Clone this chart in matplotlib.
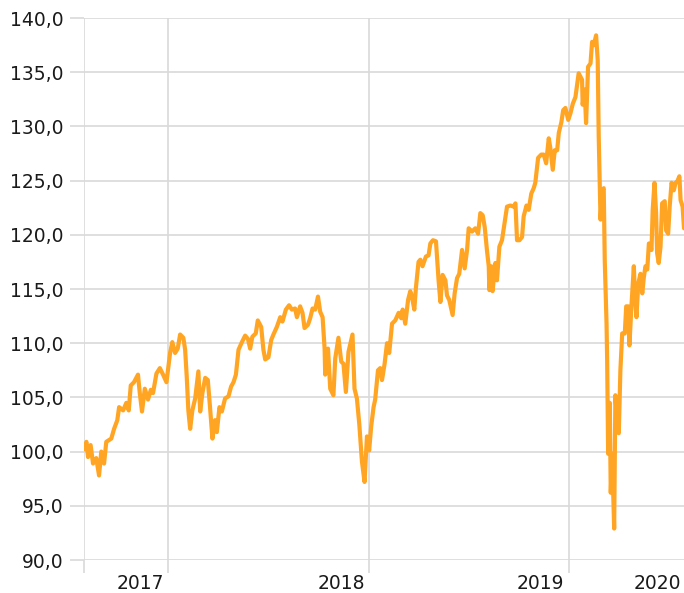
import matplotlib
matplotlib.use("Agg")
import matplotlib.pyplot as plt
from matplotlib.ticker import FuncFormatter, FixedLocator

# Time in decimal years, index values
t = [2017.581, 2017.593, 2017.601, 2017.614, 2017.626, 2017.642, 2017.656, 2017.667, 2017.681, 2017.692,
     2017.717, 2017.731, 2017.747, 2017.756, 2017.776, 2017.792, 2017.804, 2017.814, 2017.830, 2017.850,
     2017.859, 2017.870, 2017.884, 2017.900, 2017.914, 2017.925, 2017.942, 2017.959, 2017.975, 2017.992,
     2018.010, 2018.021, 2018.035, 2018.048, 2018.060, 2018.076, 2018.085, 2018.093, 2018.101, 2018.110,
     2018.121, 2018.135, 2018.151, 2018.160, 2018.171, 2018.185, 2018.198, 2018.209, 2018.221, 2018.234,
     2018.243, 2018.256, 2018.268, 2018.284, 2018.301, 2018.314, 2018.326, 2018.338, 2018.351, 2018.368,
     2018.384, 2018.398, 2018.409, 2018.420, 2018.437, 2018.447, 2018.464, 2018.475, 2018.484, 2018.500,
     2018.514, 2018.525, 2018.542, 2018.559, 2018.570, 2018.587, 2018.603, 2018.617, 2018.633, 2018.642,
     2018.658, 2018.670, 2018.680, 2018.697, 2018.708, 2018.720, 2018.733, 2018.747, 2018.758, 2018.770,
     2018.780, 2018.783, 2018.797, 2018.808, 2018.824, 2018.833, 2018.849, 2018.863, 2018.874, 2018.886,
     2018.899, 2018.919, 2018.929, 2018.941, 2018.953, 2018.966, 2018.979, 2018.991,
     2019.002, 2019.012, 2019.024, 2019.032, 2019.046, 2019.057, 2019.066, 2019.079, 2019.091, 2019.102,
     2019.116, 2019.132, 2019.149, 2019.162, 2019.169, 2019.182, 2019.196, 2019.207, 2019.215, 2019.227,
     2019.235, 2019.248, 2019.257, 2019.268, 2019.285, 2019.298, 2019.307, 2019.320, 2019.335, 2019.348,
     2019.357, 2019.368, 2019.382, 2019.390, 2019.401, 2019.418, 2019.428, 2019.440, 2019.451, 2019.465,
     2019.478, 2019.490, 2019.498, 2019.515, 2019.531, 2019.545, 2019.556, 2019.568, 2019.578, 2019.590,
     2019.598, 2019.601, 2019.611, 2019.617, 2019.631, 2019.639, 2019.651, 2019.664, 2019.677, 2019.689,
     2019.706, 2019.722, 2019.731, 2019.739, 2019.751, 2019.764, 2019.772, 2019.786, 2019.797, 2019.810,
     2019.822, 2019.830, 2019.844, 2019.860, 2019.872, 2019.884, 2019.897, 2019.905, 2019.917, 2019.927,
     2019.939, 2019.947, 2019.960, 2019.969, 2019.980, 2019.994,
     2020.005, 2020.017, 2020.030, 2020.046, 2020.063, 2020.066, 2020.076, 2020.083, 2020.093, 2020.105,
     2020.113, 2020.121, 2020.133, 2020.141, 2020.146, 2020.155, 2020.163, 2020.171, 2020.176, 2020.185,
     2020.188, 2020.193, 2020.201, 2020.206, 2020.213, 2020.223, 2020.229, 2020.238, 2020.246, 2020.254,
     2020.263, 2020.276, 2020.283, 2020.293, 2020.299, 2020.309, 2020.321, 2020.326, 2020.334, 2020.343,
     2020.354, 2020.363, 2020.371, 2020.379, 2020.388, 2020.396, 2020.409, 2020.415, 2020.424, 2020.432,
     2020.437, 2020.445, 2020.454, 2020.462, 2020.475, 2020.482, 2020.492, 2020.500, 2020.509, 2020.520,
     2020.529, 2020.537, 2020.548, 2020.554, 2020.564, 2020.571]

values = [100.2, 100.9, 99.5, 100.6, 98.9, 99.4, 97.8, 100.0, 98.9, 100.9,
          101.2, 102.1, 102.9, 104.1, 103.8, 104.5, 103.8, 106.1, 106.4, 107.1,
          105.4, 103.7, 105.8, 104.8, 105.7, 105.4, 107.2, 107.7, 107.1, 106.4,
          109.1, 110.1, 109.1, 109.5, 110.8, 110.5, 109.4, 106.9, 103.8, 102.1,
          103.8, 104.9, 107.4, 103.7, 105.4, 106.8, 106.6, 104.1, 101.2, 102.9,
          101.8, 104.1, 103.7, 104.9, 105.1, 106.0, 106.4, 107.1, 109.4, 110.1,
          110.7, 110.4, 109.5, 110.6, 110.9, 112.1, 111.5, 109.4, 108.5, 108.7,
          110.3, 110.8, 111.5, 112.4, 112.0, 113.1, 113.5, 113.1, 113.2, 112.4,
          113.4, 112.8, 111.4, 111.7, 112.3, 113.2, 113.1, 114.3, 112.9, 112.4,
          109.5, 107.1, 109.5, 105.8, 105.2, 108.6, 110.5, 108.3, 108.1, 105.5,
          109.2, 110.8, 105.8, 104.9, 102.5, 99.1, 97.2, 101.4,
          100.1, 102.3, 104.1, 104.8, 107.5, 107.7, 106.6, 108.1, 110.0, 109.1,
          111.8, 112.1, 112.8, 112.3, 113.1, 111.8, 114.0, 114.8, 114.3, 113.1,
          115.1, 117.5, 117.7, 117.1, 118.0, 118.1, 119.2, 119.5, 119.4, 115.8,
          113.8, 116.3, 115.8, 114.4, 114.0, 112.6, 114.6, 116.0, 116.4, 118.6,
          116.9, 118.6, 120.6, 120.3, 120.6, 120.1, 122.0, 121.8, 120.7, 118.4,
          117.1, 114.9, 117.1, 114.8, 117.4, 115.8, 118.9, 119.5, 121.1, 122.6,
          122.7, 122.6, 122.9, 119.5, 119.5, 119.8, 121.7, 122.7, 122.3, 123.8,
          124.3, 124.8, 127.1, 127.4, 127.4, 126.6, 128.9, 128.0, 126.0, 127.8,
          127.8, 129.4, 130.4, 131.5, 131.7, 130.6,
          131.2, 132.1, 132.7, 134.9, 134.3, 132.0, 133.4, 130.3, 135.5, 135.8,
          137.8, 137.5, 138.4, 136.1, 129.1, 121.4, 124.1, 124.3, 117.7, 111.8,
          108.5, 99.8, 104.5, 96.2, 99.8, 92.9, 105.2, 102.9, 101.7, 107.5,
          110.9, 110.9, 113.4, 113.4, 109.8, 113.4, 117.1, 114.6, 112.4, 115.5,
          116.4, 114.6, 116.1, 117.1, 116.8, 119.2, 118.6, 122.3, 124.8, 122.0,
          118.3, 117.4, 118.9, 122.9, 123.1, 120.4, 120.1, 122.7, 124.8, 124.1,
          124.8, 124.9, 125.4, 123.2, 122.6, 120.6]

y_ticks = [90, 95, 100, 105, 110, 115, 120, 125, 130, 135, 140]
x_grid = [2017.581, 2018.0, 2019.0, 2020.0]
x_label_pos = [2017.860, 2018.863, 2019.855, 2020.436]
x_labels = ["2017", "2018", "2019", "2020"]

line_color = "#FFA523"
grid_color = "#d9d9d9"
text_color = "#1a1a1a"

plt.rcParams['font.family'] = ['DejaVu Sans']

fig = plt.figure(figsize=(6.84, 5.93), dpi=100)
ax = fig.add_axes([84 / 684, 33 / 593, 600 / 684, 542 / 593])

ax.plot(t, values, color=line_color, linewidth=3.0, solid_joinstyle='round',
        solid_capstyle='round', zorder=3)

ax.set_xlim(2017.581, 2020.571)
ax.set_ylim(90, 140)

for s in ax.spines.values():
    s.set_visible(False)

ax.yaxis.set_major_locator(FixedLocator(y_ticks))
ax.yaxis.set_major_formatter(FuncFormatter(lambda v, p: f"{v:.1f}".replace(".", ",")))
ax.tick_params(axis='y', which='major', length=10, width=1.2, color=grid_color,
               pad=5, labelsize=13.5, labelcolor=text_color)

ax.xaxis.set_major_locator(FixedLocator(x_grid))
ax.xaxis.set_major_formatter(FuncFormatter(lambda v, p: ""))
ax.xaxis.set_minor_locator(FixedLocator(x_label_pos))
ax.set_xticklabels(x_labels, minor=True)
ax.tick_params(axis='x', which='major', length=9.5, width=1.2, color=grid_color)
ax.tick_params(axis='x', which='minor', length=0, pad=10, labelsize=13.5,
               labelcolor=text_color)

ax.grid(True, which='major', axis='both', color=grid_color, linewidth=1.2, zorder=0)
ax.set_axisbelow(True)

fig.savefig("out.png", dpi=100)
